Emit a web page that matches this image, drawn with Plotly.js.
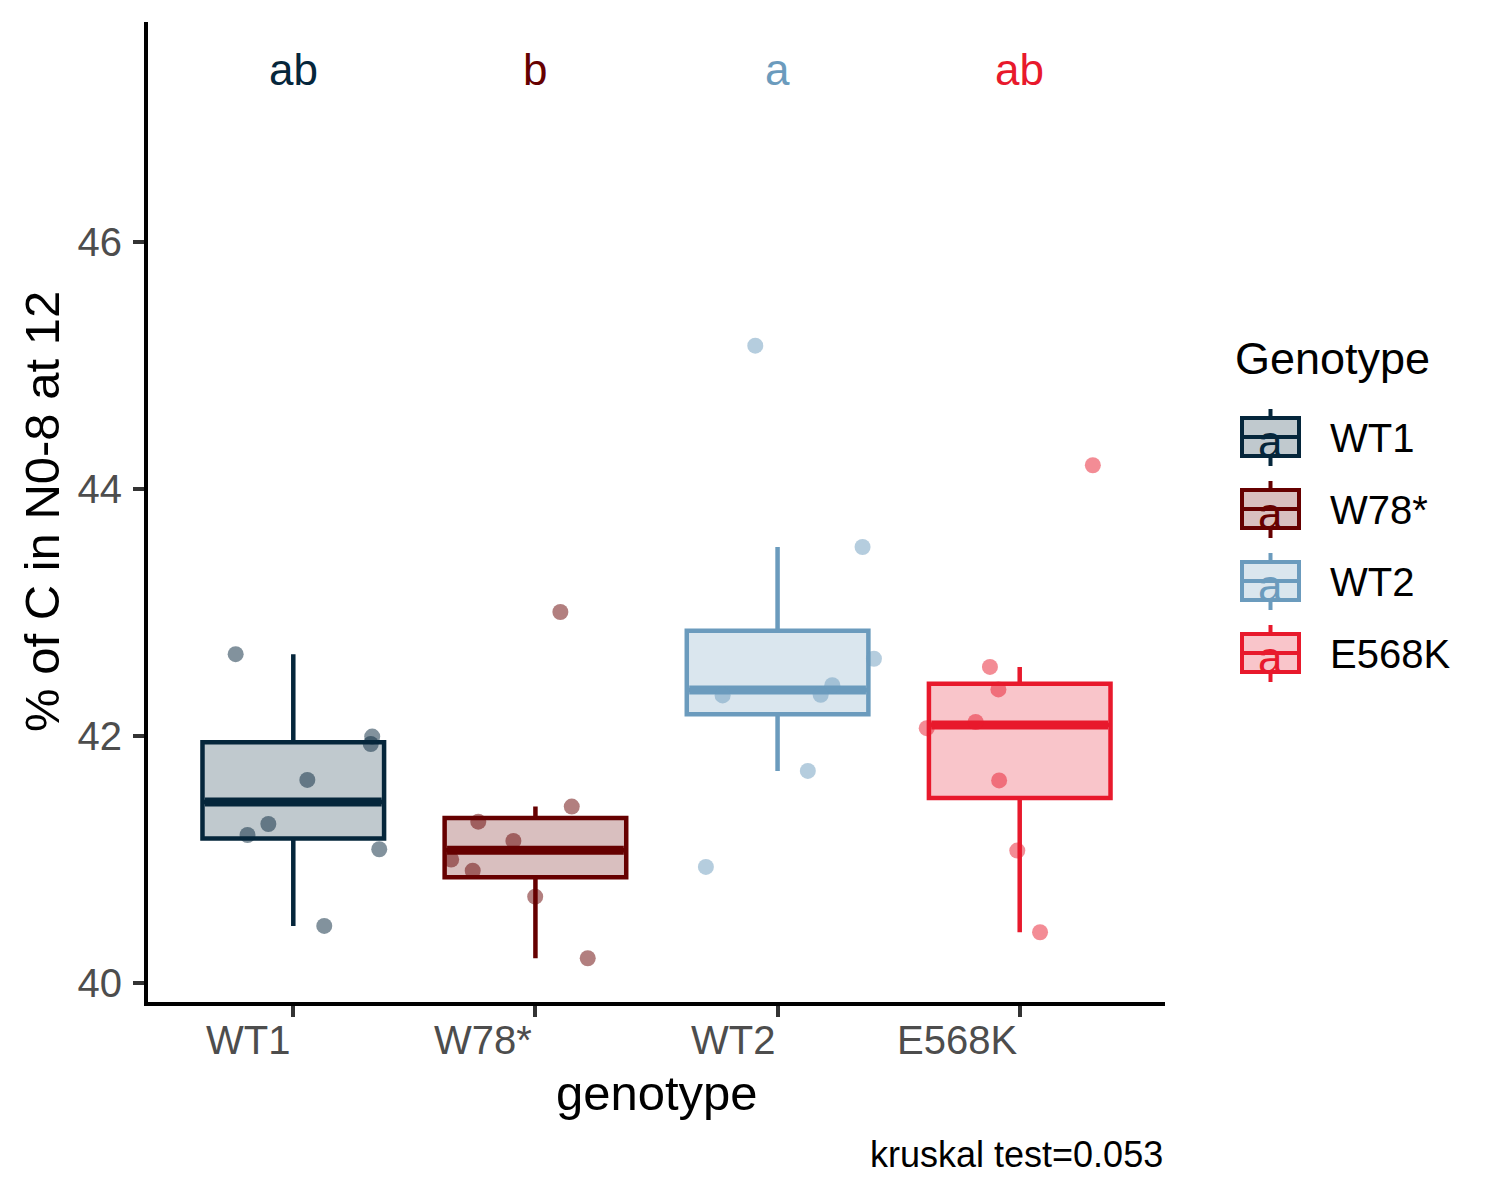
<!DOCTYPE html>
<html>
<head>
<meta charset="utf-8">
<script src="https://cdn.plot.ly/plotly-3.0.1.min.js"></script>
<style>html,body{margin:0;padding:0;background:#fff;}#chart{width:1500px;height:1200px;}</style>
</head>
<body>
<div id="chart"></div>
<script>
// ---------------- data ----------------
const genotypes = ['WT1', 'W78*', 'WT2', 'E568K'];
const letters   = ['ab', 'b', 'a', 'ab'];
const letterY   = 47.40;
const colors    = ['#05263b', '#660000', '#6b9bbd', '#e8192c'];
const fillRGB   = ['5,38,59', '102,0,0', '107,155,189', '232,25,44'];

const wt1Vals  = [42.662, 41.995, 41.935, 41.644, 41.287, 41.198, 41.083, 40.462];
const wt1Jit   = [-0.238, 0.326, 0.320, 0.058, -0.103, -0.189, 0.355, 0.128];
const w78Vals  = [43.004, 41.428, 41.306, 41.150, 41.000, 40.909, 40.699, 40.200];
const w78Jit   = [0.103, 0.150, -0.236, -0.091, -0.348, -0.259, -0.001, 0.216];
const wt2Vals  = [45.160, 43.530, 42.625, 42.411, 42.328, 42.334, 41.717, 40.940];
const wt2Jit   = [-0.092, 0.351, 0.398, 0.226, -0.227, 0.178, 0.125, -0.296];
const e568Vals = [44.192, 42.559, 42.377, 42.113, 42.063, 41.640, 41.072, 40.411];
const e568Jit  = [0.302, -0.123, -0.088, -0.182, -0.384, -0.085, -0.010, 0.084];

const yTicks = [40, 42, 44, 46];
const caption = 'kruskal test=0.053';
const xTitle = 'genotype';
const yTitle = '% of C in N0-8 at 12';
const legendTitle = 'Genotype';

const groupVals = [wt1Vals, w78Vals, wt2Vals, e568Vals];
const groupJit  = [wt1Jit, w78Jit, wt2Jit, e568Jit];

// ---------------- statistics (ggplot / R type-7 quantiles) ----------------
function q7(sorted, p) {
  const h = (sorted.length - 1) * p;
  const lo = Math.floor(h), hi = Math.ceil(h);
  return sorted[lo] + (h - lo) * (sorted[hi] - sorted[lo]);
}
function boxStats(vals) {
  const s = vals.slice().sort((a, b) => a - b);
  const q1 = q7(s, 0.25), med = q7(s, 0.5), q3 = q7(s, 0.75);
  const iqr = q3 - q1;
  const lf = Math.min(...s.filter(v => v >= q1 - 1.5 * iqr));
  const uf = Math.max(...s.filter(v => v <= q3 + 1.5 * iqr));
  return {q1, med, q3, lf, uf};
}

const FONT = 'Liberation Sans, Arial, Helvetica, sans-serif';
const BOXW = 0.75;
const traces = [];
const stats = groupVals.map(boxStats);

genotypes.forEach((g, i) => {
  const st = stats[i];
  traces.push({
    type: 'box', x: [i], q1: [st.q1], median: [st.med], q3: [st.q3],
    lowerfence: [st.lf], upperfence: [st.uf],
    width: BOXW, whiskerwidth: 0,
    line: {color: colors[i], width: 4.5},
    fillcolor: 'rgba(' + fillRGB[i] + ',0.25)',
    boxpoints: false, showlegend: false, hoverinfo: 'skip'
  });
});
genotypes.forEach((g, i) => {
  const st = stats[i];
  traces.push({
    type: 'scatter', mode: 'lines',
    x: [i - BOXW / 2 + 0.01, i + BOXW / 2 - 0.01], y: [st.med, st.med],
    line: {color: colors[i], width: 9},
    showlegend: false, hoverinfo: 'skip'
  });
});
genotypes.forEach((g, i) => {
  traces.push({
    type: 'scatter', mode: 'markers',
    x: groupJit[i].map(j => i + j), y: groupVals[i],
    marker: {color: colors[i], size: 16, opacity: 0.5, line: {width: 0}},
    showlegend: false, hoverinfo: 'skip'
  });
});

// ---------------- layout helpers ----------------
const L = 148, R = 1165, T = 22, B = 1002;
const px2x = px => (px - L) / (R - L);
const px2y = py => (B - py) / (B - T);

const annotations = [];
const shapes = [];

// group letters
genotypes.forEach((g, i) => {
  annotations.push({
    x: i, y: letterY, xref: 'x', yref: 'y', text: letters[i], showarrow: false,
    xanchor: 'center', yanchor: 'middle',
    font: {family: FONT, size: 44, color: colors[i]}
  });
});
// x tick labels (right-aligned at tick, as in reference)
genotypes.forEach((g, i) => {
  annotations.push({
    x: i, y: 0, xref: 'x', yref: 'paper', text: g, showarrow: false,
    xanchor: 'right', yanchor: 'middle', xshift: -1, yshift: -38,
    font: {family: FONT, size: 40, color: '#4d4d4d'}
  });
});
// axis titles
annotations.push({
  x: 0.5, y: 0, xref: 'paper', yref: 'paper', text: xTitle, showarrow: false,
  xanchor: 'center', yanchor: 'middle', yshift: -91,
  font: {family: FONT, size: 49, color: '#000'}
});
annotations.push({
  x: 0, y: 0.5, xref: 'paper', yref: 'paper', text: yTitle, showarrow: false,
  xanchor: 'center', yanchor: 'middle', xshift: -106, textangle: -90,
  font: {family: FONT, size: 49, color: '#000'}
});
// caption
annotations.push({
  x: 1, y: 0, xref: 'paper', yref: 'paper', text: caption, showarrow: false,
  xanchor: 'right', yanchor: 'middle', yshift: -152, xshift: 0,
  font: {family: FONT, size: 36, color: '#000'}
});

// custom legend
annotations.push({
  x: px2x(1233), y: px2y(358), xref: 'paper', yref: 'paper', text: legendTitle,
  showarrow: false, xanchor: 'left', yanchor: 'middle',
  font: {family: FONT, size: 45, color: '#000'}
});
const keyX0 = 1242, keyX1 = 1299, keyXc = 1270.5, keyTop0 = 418, keyH = 38, keyStep = 72;
genotypes.forEach((g, i) => {
  const top = keyTop0 + keyStep * i, bot = top + keyH, mid = (top + bot) / 2;
  shapes.push({type: 'line', xref: 'paper', yref: 'paper',
    x0: px2x(keyXc), x1: px2x(keyXc), y0: px2y(top - 9), y1: px2y(top),
    line: {color: colors[i], width: 4}});
  shapes.push({type: 'line', xref: 'paper', yref: 'paper',
    x0: px2x(keyXc), x1: px2x(keyXc), y0: px2y(bot), y1: px2y(bot + 10),
    line: {color: colors[i], width: 4}});
  shapes.push({type: 'rect', xref: 'paper', yref: 'paper',
    x0: px2x(keyX0), x1: px2x(keyX1), y0: px2y(bot), y1: px2y(top),
    fillcolor: 'rgba(' + fillRGB[i] + ',0.25)', line: {color: colors[i], width: 4}});
  shapes.push({type: 'line', xref: 'paper', yref: 'paper',
    x0: px2x(keyX0), x1: px2x(keyX1), y0: px2y(mid), y1: px2y(mid),
    line: {color: colors[i], width: 4}});
  annotations.push({
    x: px2x(keyXc), y: px2y(mid + 4), xref: 'paper', yref: 'paper', text: 'a',
    showarrow: false, xanchor: 'center', yanchor: 'middle',
    font: {family: FONT, size: 44, color: colors[i]}
  });
  annotations.push({
    x: px2x(1328), y: px2y(mid + 1), xref: 'paper', yref: 'paper', text: g,
    showarrow: false, xanchor: 'left', yanchor: 'middle',
    font: {family: FONT, size: 40, color: '#000'}
  });
});

const layout = {
  width: 1500, height: 1200,
  margin: {l: L, r: 1500 - R, t: T, b: 1200 - B, pad: 0},
  paper_bgcolor: '#ffffff', plot_bgcolor: '#ffffff',
  showlegend: false, hovermode: false,
  font: {family: FONT},
  xaxis: {
    range: [-0.6, 3.6], tickvals: [0, 1, 2, 3], showticklabels: false,
    ticks: 'outside', ticklen: 11, tickwidth: 4, tickcolor: '#333333',
    showline: true, linecolor: '#000', linewidth: 4,
    showgrid: false, zeroline: false, fixedrange: true
  },
  yaxis: {
    range: [39.846, 47.781], tickvals: yTicks, ticktext: yTicks.map(String),
    ticks: 'outside', ticklen: 11, tickwidth: 4, tickcolor: '#333333',
    tickfont: {family: FONT, size: 40, color: '#4d4d4d'}, ticklabelstandoff: 3,
    showline: true, linecolor: '#000', linewidth: 4,
    showgrid: false, zeroline: false, fixedrange: true
  },
  annotations: annotations,
  shapes: shapes
};

Plotly.newPlot('chart', traces, layout, {staticPlot: true, displayModeBar: false});
</script>
</body>
</html>
